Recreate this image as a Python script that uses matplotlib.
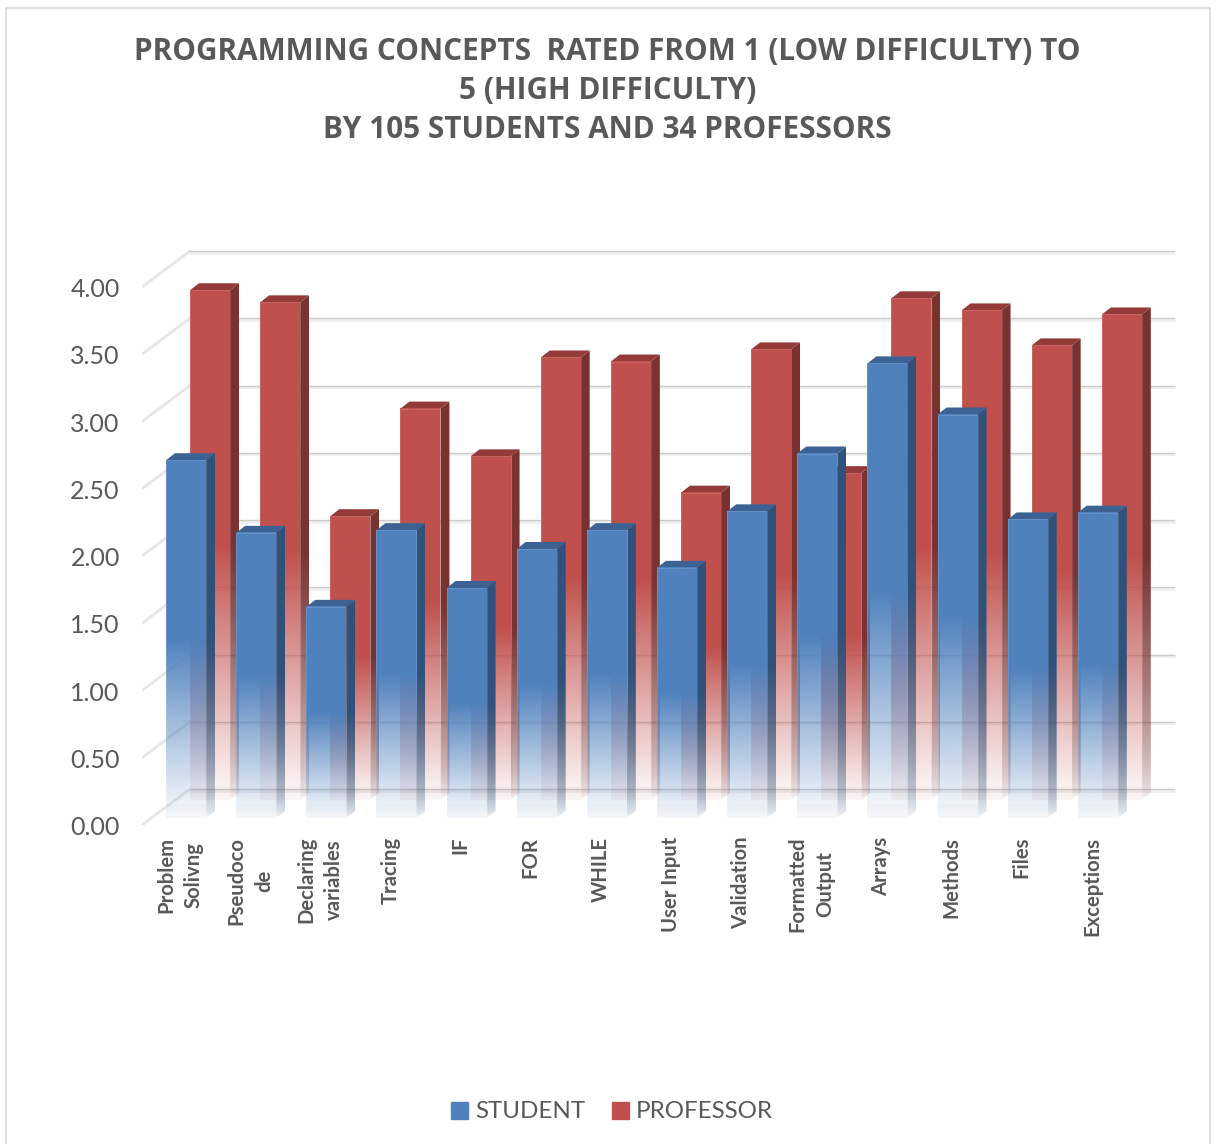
import numpy as np
import matplotlib
matplotlib.use("Agg")
import matplotlib.pyplot as plt
from matplotlib.patches import Polygon, Rectangle, Patch
from matplotlib.colors import to_rgb
from matplotlib.transforms import ScaledTranslation

categories = ["Problem\nSolivng", "Pseudoco\nde", "Declaring\nvariables", "Tracing", "IF", "FOR", "WHILE",
              "User Input", "Validation", "Formatted\nOutput", "Arrays", "Methods", "Files", "Exceptions"]
student = [2.66, 2.12, 1.57, 2.14, 1.71, 2.00, 2.14, 1.86, 2.28, 2.71, 3.38, 3.00, 2.22, 2.27]
professor = [3.79, 3.70, 2.11, 2.91, 2.555, 3.29, 3.26, 2.285, 3.35, 2.43, 3.73, 3.64, 3.38, 3.61]
y_ticks = [0, 0.5, 1, 1.5, 2, 2.5, 3, 3.5, 4]
title = "PROGRAMMING CONCEPTS  RATED FROM 1 (LOW DIFFICULTY) TO\n5 (HIGH DIFFICULTY)\nBY 105 STUDENTS AND 34 PROFESSORS"

W, H = 1216, 1144
CAT_PX, VAL_PX = 70.14, 134.5
X0, Y0 = 142, 825
fig = plt.figure(figsize=(W / 100, H / 100), dpi=100, facecolor="white")
plt.rcParams["font.family"] = "Lato"
right_px, top_px = 1200, 230
ax = fig.add_axes([X0 / W, 1 - Y0 / H, (right_px - X0) / W, (Y0 - top_px) / H])
ax.patch.set_visible(False)
for s in ax.spines.values():
    s.set_visible(False)

fig.add_artist(Rectangle((6 / W, -0.01), 1204 / W, 1 - 8 / H + 0.01, transform=fig.transFigure,
                         fc="none", ec="#d9d9d9", lw=1.2))

px = lambda v: v / CAT_PX
py = lambda v: v / VAL_PX
n = len(categories)
wall_dx, wall_dy = px(48), py(36)
# gridlines
for v in y_ticks:
    ax.plot([0, wall_dx], [v, v + wall_dy], color="#e6e6e6", lw=2.0, solid_capstyle="round", zorder=1)
    ax.plot([wall_dx, px(1174 - X0)], [v + wall_dy - py(1.5)] * 2, color="#f0f0f0", lw=2.2, zorder=1)
    ax.plot([wall_dx, px(1174 - X0)], [v + wall_dy] * 2, color="#cccccc", lw=1.0, zorder=1)


def fade(y, base, top, power=1.0):
    t = np.clip((y - base) / (0.5 * (top - base)), 0, 1)
    return 0.02 + 0.98 * t ** power


def face(x0, x1, base, top, ytop, color, clip=None, power=1.0, z=2):
    ys = np.linspace(base, ytop, 300)
    rgba = np.zeros((300, 2, 4))
    rgba[..., :3] = to_rgb(color)
    rgba[..., 3] = fade(ys, base, top, power)[:, None]
    im = ax.imshow(rgba, extent=(x0, x1, base, ytop), origin="lower", aspect="auto",
                   interpolation="bilinear", zorder=z)
    if clip is not None:
        im.set_clip_path(Polygon(clip, closed=True, transform=ax.transData))


def bars(vals, off_px, base_px, front, side, topc, z):
    w, dx, dy = px(40), px(9), py(7)
    base = py(base_px)
    band = py(15)
    for i, v in enumerate(vals):
        x0 = i + px(off_px)
        x1 = x0 + w
        top = base + v
        face(x1, x1 + dx, base, top, top + dy, side,
             clip=[(x1, base), (x1 + dx, base + dy), (x1 + dx, top + dy), (x1, top)], power=0.6, z=z)
        ax.add_patch(Polygon([(x0, top), (x1, top), (x1 + dx, top + dy), (x0 + dx, top + dy)],
                             closed=True, fc=topc, ec="none", zorder=z))
        face(x0, x1, base, top, top, front, z=z + 0.1)
        # soft bevel outline and the pale reflected strip at the foot of the bar
        ax.add_patch(Rectangle((x0, base), w, v, fc="none", ec=(1, 1, 1, 0.12), lw=0.8, zorder=z + 0.2))
        ax.add_patch(Rectangle((x0, base), w, band, fc=to_rgb(front) + (0.035,), ec="none", zorder=z + 0.2))
        ax.plot([x0 + px(3), x1 - px(3)], [base + band] * 2, color=(1, 1, 1, 0.25), lw=1, zorder=z + 0.2)


bars(professor, 48, 25, "#C0504D", "#7A3230", "#943B39", 3)
bars(student, 24, 7, "#4F81BD", "#30527A", "#3C6293", 5)

ax.set_xlim(0, px(right_px - X0))
ax.set_ylim(0, py(Y0 - top_px))
ax.set_yticks(y_ticks)
ax.set_yticklabels([f"{v:.2f}" for v in y_ticks], fontsize=18, color="#595959")
ax.set_xticks(np.arange(n) + 0.5 + px(3))
ax.set_xticklabels(categories, rotation=90, fontsize=14.6, fontweight="bold", color="#595959",
                   va="top", ha="center", ma="center", linespacing=1.45)
ax.tick_params(axis="both", length=0)
ax.tick_params(axis="y", pad=16)
ax.tick_params(axis="x", pad=8.5)
down = ScaledTranslation(0, -0.6 / 100, fig.dpi_scale_trans)
for lab in ax.get_yticklabels():
    lab.set_transform(lab.get_transform() + down)

fig.text(607.5 / W, 1 - 91 / H, title, ha="center", va="center", fontsize=21.4, fontweight="bold",
         color="#595959", linespacing=1.41, family="Open Sans")

fig.legend(handles=[Patch(color="#4F81BD", label="STUDENT"), Patch(color="#C0504D", label="PROFESSOR")],
           loc="center", bbox_to_anchor=(612 / W, 1 - 1112 / H), ncols=2, frameon=False, fontsize=17.4,
           labelcolor="#595959", handlelength=0.7, handleheight=0.7, handletextpad=0.3, columnspacing=1.1)

fig.savefig("out.png", dpi=100)
